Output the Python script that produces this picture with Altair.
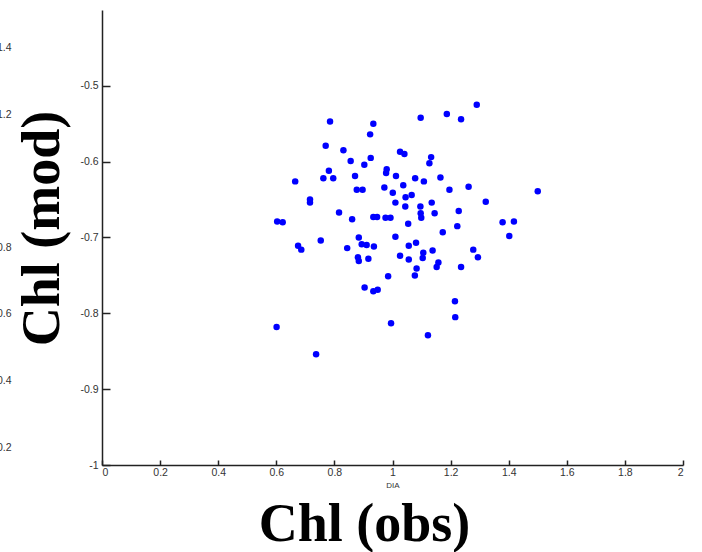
import altair as alt
import pandas as pd

obs = [1.290, 1.097, 1.187, 1.236, 0.785, 0.934, 0.923, 0.770, 0.831, 1.026,
       1.041, 0.856, 0.903, 0.925, 1.133, 1.127, 0.781, 0.762, 0.796, 0.665,
       0.871, 0.980, 0.978, 1.012, 1.078, 1.108, 1.165, 1.037, 0.877, 0.897,
       0.972, 1.001, 1.196, 1.262, 1.500, 0.716, 0.716, 1.045, 1.066, 1.010,
       1.044, 1.096, 1.135, 1.321, 0.816, 0.861, 0.934, 0.947, 0.976, 0.993,
       1.097, 1.099, 1.145, 1.228, 0.603, 0.622, 1.054, 1.223, 1.379, 1.418,
       0.753, 0.884, 1.010, 1.173, 1.402, 0.675, 0.686, 0.844, 0.894, 0.911,
       0.936, 1.056, 1.081, 1.278, 0.881, 0.884, 0.917, 1.026, 1.056, 1.106,
       1.104, 1.138, 1.294, 1.083, 1.158, 1.152, 1.236, 0.985, 1.077, 0.904,
       0.934, 0.949, 1.215, 1.216, 0.601, 0.995, 1.122, 0.737]
mod = [-0.525, -0.542, -0.537, -0.544, -0.547, -0.550, -0.564, -0.579, -0.585, -0.587,
       -0.590, -0.599, -0.604, -0.595, -0.594, -0.602, -0.612, -0.622, -0.622, -0.626,
       -0.619, -0.610, -0.615, -0.619, -0.622, -0.626, -0.621, -0.631, -0.637, -0.637,
       -0.634, -0.641, -0.637, -0.633, -0.639, -0.650, -0.654, -0.647, -0.644, -0.654,
       -0.659, -0.659, -0.654, -0.653, -0.667, -0.676, -0.673, -0.673, -0.674, -0.674,
       -0.668, -0.674, -0.668, -0.665, -0.679, -0.680, -0.682, -0.685, -0.680, -0.679,
       -0.704, -0.700, -0.699, -0.693, -0.698, -0.711, -0.716, -0.714, -0.709, -0.710,
       -0.712, -0.711, -0.707, -0.716, -0.726, -0.731, -0.728, -0.724, -0.729, -0.720,
       -0.727, -0.717, -0.726, -0.741, -0.733, -0.739, -0.739, -0.751, -0.750, -0.766,
       -0.771, -0.769, -0.784, -0.805, -0.818, -0.813, -0.829, -0.854]

x_ticks = [0, 0.2, 0.4, 0.6, 0.8, 1, 1.2, 1.4, 1.6, 1.8, 2]
y_ticks = [-1, -0.9, -0.8, -0.7, -0.6, -0.5]
# partly hidden labels of a second axis at the far left edge
left_ticks = [0.2, 0.4, 0.6, 0.8, 1.2, 1.4]

df = pd.DataFrame({"obs": obs, "mod": mod})
left_df = pd.DataFrame({"v": left_ticks})

W, H = 581, 455
AXC = "#222222"
lab = dict(labelFont="Liberation Sans", labelFontSize=10.5, labelColor="#333333")
big = dict(titleFont="Liberation Serif", titleFontSize=54, titleFontWeight="bold",
           titleColor="black", titleAlign="center", titleBaseline="alphabetic")

xs = alt.Scale(domain=[0, 2], nice=False, zero=False)
ys = alt.Scale(domain=[-1, -0.4], nice=False, zero=False)
minus_fix = "replace(datum.label, '\u2212', '-')"

points = alt.Chart(df).mark_circle(color="#0000ff", size=42, opacity=1).encode(
    x=alt.X("obs:Q", scale=xs, axis=alt.Axis(
        orient="bottom", values=x_ticks, format="~g", ticks=False, tickSize=0,
        grid=False, domainColor=AXC, domainWidth=1.5, labelPadding=2,
        title="DIA", titleFont="Liberation Sans", titleFontSize=8,
        titleFontWeight="normal", titleColor="#333333", titlePadding=4, **lab)),
    y=alt.Y("mod:Q", scale=ys, axis=alt.Axis(
        orient="left", values=y_ticks, format="~g", labelExpr=minus_fix,
        ticks=False, tickSize=0, grid=False, domainColor=AXC, domainWidth=1.5,
        labelPadding=4, title="Chl (mod)", titleAngle=270, titleX=-44, titleY=218,
        **big, **lab)),
)

tick_layer = alt.Chart(df).mark_circle(opacity=0).encode(
    x=alt.X("obs:Q", scale=xs, axis=alt.Axis(
        orient="top", offset=-H, values=x_ticks, labels=False, domain=False,
        tickSize=5, tickColor=AXC, tickWidth=1.5, grid=False,
        title="Chl (obs)", titleX=262, titleY=75, **big)),
    y=alt.Y("mod:Q", scale=ys, axis=alt.Axis(
        orient="right", offset=-W, values=y_ticks, labels=False, domain=False,
        tickSize=8, tickColor=AXC, tickWidth=1.5, grid=False, title="")),
)

left_layer = alt.Chart(left_df).mark_point(opacity=0).encode(
    y=alt.Y("v:Q", scale=alt.Scale(domain=[0.146, 1.514], nice=False, zero=False),
            axis=alt.Axis(orient="left", offset=89, values=left_ticks, format="~g",
                          ticks=False, tickSize=0, domain=False, grid=False,
                          labelPadding=2, title="", **lab)),
)

chart = alt.layer(points, tick_layer, left_layer).resolve_scale(
    y="independent"
).resolve_axis(
    x="independent", y="independent"
).properties(
    width=W, height=H,
    padding={"left": 102, "top": 10, "right": 19, "bottom": 87},
    autosize=alt.AutoSizeParams(type="none"),
    background="white",
).configure_view(strokeWidth=0)

chart.save("out.html", embed_options={"renderer": "svg", "actions": False})
